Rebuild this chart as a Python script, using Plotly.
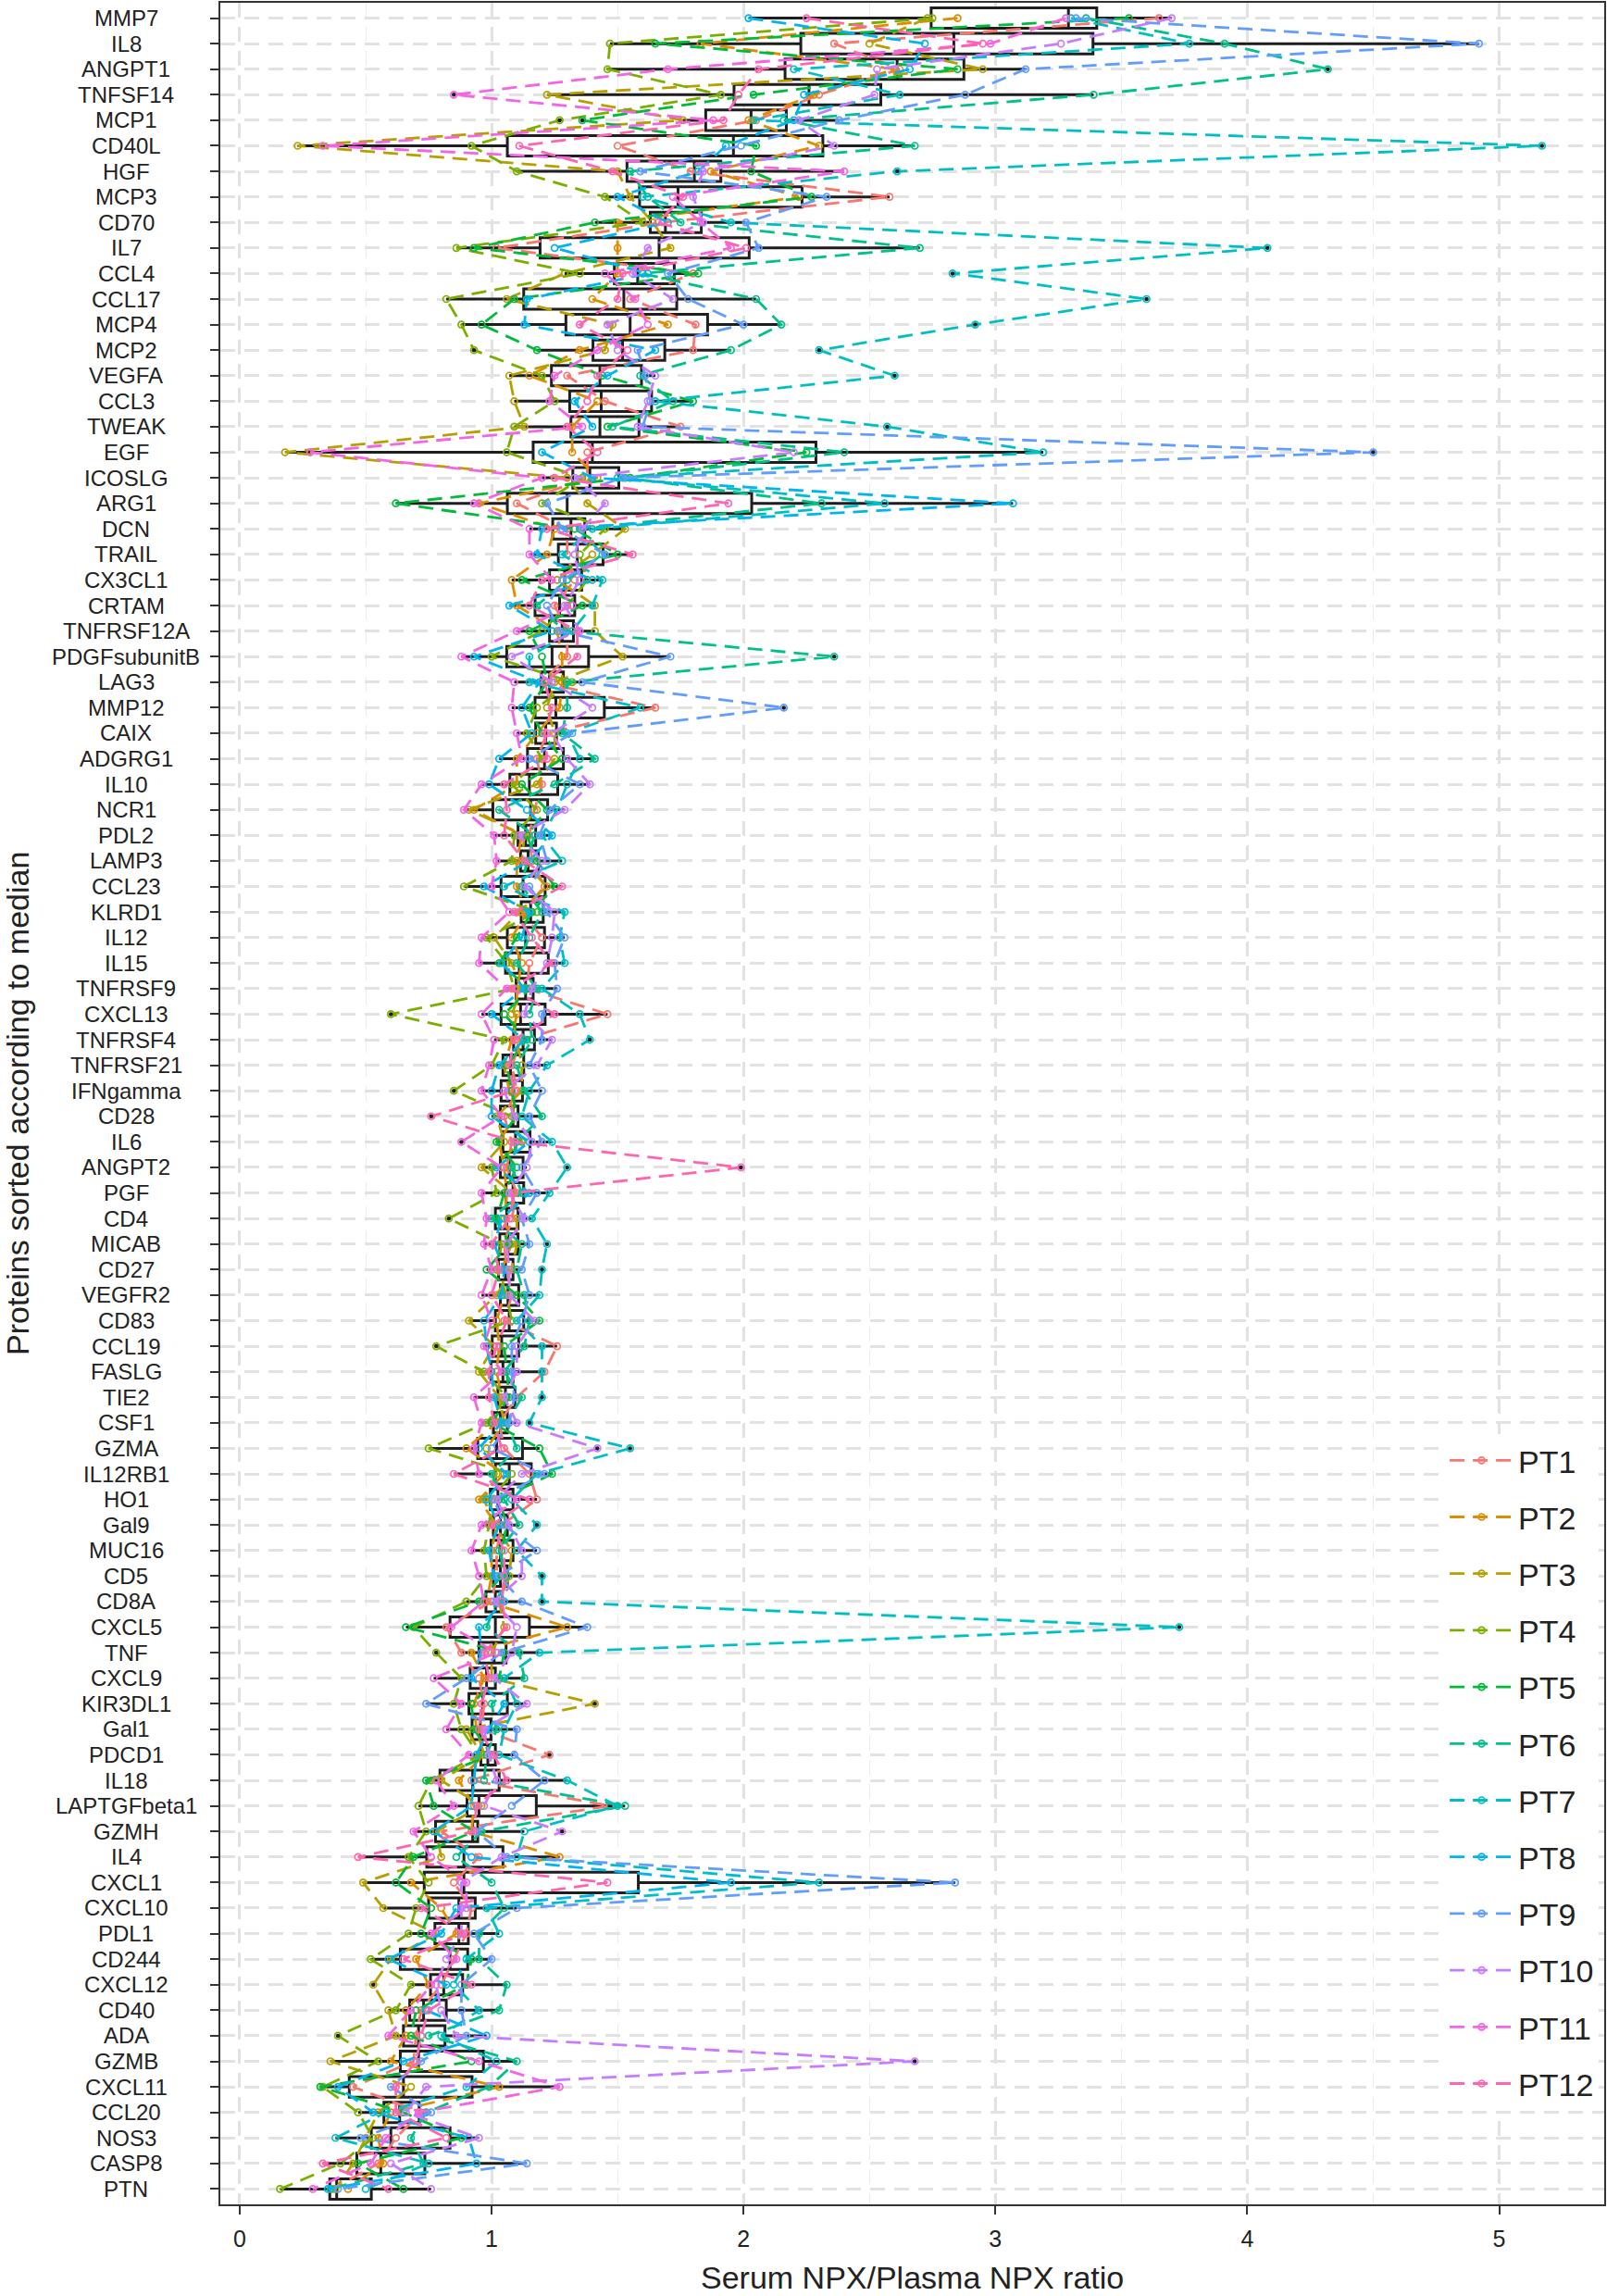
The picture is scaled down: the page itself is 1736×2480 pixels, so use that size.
import numpy as np
import plotly.graph_objects as go

proteins = ["MMP7", "IL8", "ANGPT1", "TNFSF14", "MCP1", "CD40L", "HGF", "MCP3", "CD70", "IL7",
            "CCL4", "CCL17", "MCP4", "MCP2", "VEGFA", "CCL3", "TWEAK", "EGF", "ICOSLG", "ARG1",
            "DCN", "TRAIL", "CX3CL1", "CRTAM", "TNFRSF12A", "PDGFsubunitB", "LAG3", "MMP12", "CAIX", "ADGRG1",
            "IL10", "NCR1", "PDL2", "LAMP3", "CCL23", "KLRD1", "IL12", "IL15", "TNFRSF9", "CXCL13",
            "TNFRSF4", "TNFRSF21", "IFNgamma", "CD28", "IL6", "ANGPT2", "PGF", "CD4", "MICAB", "CD27",
            "VEGFR2", "CD83", "CCL19", "FASLG", "TIE2", "CSF1", "GZMA", "IL12RB1", "HO1", "Gal9",
            "MUC16", "CD5", "CD8A", "CXCL5", "TNF", "CXCL9", "KIR3DL1", "Gal1", "PDCD1", "IL18",
            "LAPTGFbeta1", "GZMH", "IL4", "CXCL1", "CXCL10", "PDL1", "CD244", "CXCL12", "CD40", "ADA",
            "GZMB", "CXCL11", "CCL20", "NOS3", "CASP8", "PTN"]

pt1 = [3.65, 2.36, 2.62, 2.30, 2.05, 1.50, 1.79, 2.58, 1.68, 1.02,
       1.80, 1.55, 1.81, 1.80, 1.30, 1.45, 1.75, 1.38, 1.38, 1.10,
       1.30, 1.30, 1.33, 1.25, 1.30, 1.30, 1.20, 1.65, 1.22, 1.18,
       1.20, 1.17, 1.15, 1.16, 1.21, 1.12, 1.20, 1.15, 1.14, 1.46,
       1.12, 1.08, 1.10, 1.05, 1.08, 1.06, 1.10, 1.08, 1.05, 1.06,
       1.08, 1.05, 1.26, 1.21, 1.10, 1.03, 1.05, 1.15, 1.18, 1.04,
       1.02, 1.02, 1.00, 0.82, 0.88, 0.95, 0.97, 0.96, 1.23, 0.92,
       1.47, 0.80, 0.95, 0.85, 0.92, 0.90, 0.85, 0.80, 0.72, 0.70,
       0.69, 0.45, 0.72, 0.62, 0.55, 0.37]
pt2 = [2.85, 1.83, 2.60, 2.28, 2.02, 2.30, 1.87, 2.22, 1.50, 1.50,
       1.50, 1.40, 1.70, 1.35, 1.15, 1.42, 1.32, 1.32, 1.42, 0.95,
       1.25, 1.22, 1.08, 1.10, 1.26, 1.28, 1.28, 1.27, 1.18, 1.10,
       1.10, 0.93, 1.12, 1.10, 1.10, 1.14, 1.08, 1.12, 1.10, 1.10,
       1.08, 1.05, 1.07, 1.09, 1.03, 1.05, 1.06, 1.05, 1.08, 1.04,
       1.05, 1.02, 1.03, 1.02, 1.04, 1.02, 0.90, 1.05, 0.95, 1.02,
       1.00, 1.00, 0.98, 1.30, 0.92, 0.97, 0.93, 0.94, 0.97, 0.87,
       0.93, 0.92, 1.27, 0.68, 0.80, 0.86, 0.70, 0.75, 0.66, 0.66,
       0.60, 1.03, 0.60, 0.55, 0.57, 0.43]
pt3 = [2.73, 2.50, 2.95, 1.22, 1.76, 0.23, 1.50, 1.55, 1.64, 1.71,
       1.29, 1.06, 1.48, 1.45, 1.07, 1.09, 1.13, 0.18, 1.30, 1.38,
       1.53, 1.40, 1.26, 1.41, 1.41, 1.52, 1.25, 1.22, 1.25, 1.25,
       1.18, 0.91, 1.13, 1.12, 1.22, 1.11, 1.01, 1.08, 1.12, 1.08,
       1.10, 1.12, 1.12, 1.02, 1.05, 0.96, 1.08, 1.10, 1.10, 1.08,
       1.02, 0.91, 1.01, 0.95, 1.03, 1.05, 0.98, 1.02, 0.97, 1.01,
       1.08, 1.07, 1.03, 1.05, 1.00, 1.00, 1.41, 0.90, 0.96, 0.80,
       0.96, 0.78, 0.80, 0.49, 0.57, 0.78, 0.60, 0.53, 0.59, 0.62,
       0.36, 0.68, 0.55, 0.50, 0.45, 0.38]
pt4 = [2.75, 1.47, 1.46, 1.91, 1.27, 0.92, 1.10, 1.45, 1.60, 0.86,
       1.35, 0.82, 0.88, 0.93, 1.20, 1.25, 1.09, 1.06, 1.36, 1.20,
       1.45, 1.35, 1.38, 1.30, 1.20, 1.00, 1.32, 1.18, 1.14, 1.20,
       1.08, 1.18, 1.09, 1.08, 0.89, 1.18, 0.98, 1.06, 1.09, 0.60,
       1.05, 1.00, 0.85, 1.08, 1.12, 1.00, 1.02, 0.83, 1.04, 1.02,
       1.06, 1.08, 0.78, 0.97, 1.06, 0.98, 0.75, 1.08, 1.00, 0.99,
       0.97, 0.98, 0.90, 0.69, 0.78, 0.88, 0.85, 0.88, 0.95, 0.76,
       0.71, 0.74, 0.67, 0.75, 0.70, 0.67, 0.52, 0.68, 0.62, 0.39,
       0.55, 0.33, 0.47, 0.53, 0.40, 0.16]
pt5 = [3.53, 1.65, 2.85, 2.04, 1.36, 2.05, 2.03, 2.27, 1.41, 0.93,
       1.82, 1.09, 0.96, 1.18, 1.44, 1.80, 1.46, 2.25, 1.55, 0.62,
       1.33, 1.50, 1.12, 1.36, 1.15, 1.20, 1.22, 1.15, 1.20, 1.28,
       1.12, 1.22, 1.14, 1.18, 1.25, 1.16, 1.10, 1.03, 1.15, 1.05,
       1.14, 1.06, 1.08, 1.10, 1.02, 1.10, 1.05, 1.02, 1.07, 0.98,
       1.10, 1.19, 1.05, 1.06, 1.07, 1.00, 1.19, 1.24, 1.03, 1.06,
       1.04, 1.04, 0.95, 0.66, 1.05, 1.03, 0.92, 0.93, 1.00, 0.74,
       0.77, 0.93, 0.69, 0.62, 0.76, 0.72, 0.92, 0.90, 0.70, 0.68,
       0.92, 0.32, 0.65, 0.88, 0.47, 0.65]
pt6 = [3.36, 3.91, 4.32, 3.39, 2.16, 2.68, 1.55, 1.62, 1.75, 2.70,
       1.60, 2.05, 2.15, 1.95, 1.59, 1.72, 1.48, 2.40, 1.53, 2.31,
       1.35, 1.44, 1.30, 1.18, 1.29, 2.36, 1.30, 1.30, 1.28, 1.41,
       1.25, 1.03, 1.17, 1.14, 1.12, 1.20, 1.15, 1.10, 1.18, 1.15,
       1.16, 1.10, 1.13, 1.20, 1.10, 1.08, 1.12, 1.00, 1.12, 1.10,
       1.13, 1.15, 1.13, 1.05, 1.12, 1.06, 1.10, 1.00, 1.05, 1.11,
       1.03, 1.06, 1.02, 0.98, 1.11, 1.13, 1.00, 1.02, 0.98, 0.97,
       1.53, 0.96, 0.86, 1.00, 1.05, 0.95, 0.95, 1.06, 1.03, 0.75,
       1.10, 0.99, 0.74, 0.68, 0.73, 0.36]
pt7 = [3.30, 3.77, 2.20, 2.62, 2.04, 5.17, 2.61, 1.60, 1.95, 4.08,
       2.83, 3.60, 2.92, 2.30, 2.60, 1.65, 2.57, 3.19, 1.50, 2.56,
       1.40, 1.28, 1.44, 1.40, 1.32, 1.15, 1.15, 1.59, 1.30, 1.35,
       1.30, 1.26, 1.20, 1.28, 1.05, 1.29, 1.27, 1.29, 1.20, 1.35,
       1.39, 1.22, 1.15, 1.12, 1.24, 1.30, 1.23, 1.16, 1.22, 1.20,
       1.19, 1.10, 1.20, 1.20, 1.20, 1.15, 1.55, 1.18, 1.08, 1.18,
       1.10, 1.20, 1.20, 3.73, 1.19, 1.05, 1.10, 1.05, 1.03, 1.30,
       1.50, 1.13, 1.10, 2.30, 0.98, 1.03, 0.90, 0.85, 0.95, 0.80,
       1.02, 0.90, 0.58, 0.38, 0.75, 0.50]
pt8 = [2.02, 2.72, 2.66, 2.24, 2.20, 1.93, 1.82, 1.50, 1.70, 1.25,
       1.62, 1.14, 1.13, 1.65, 1.46, 1.33, 1.40, 1.20, 1.40, 3.07,
       1.20, 1.18, 1.40, 1.07, 1.24, 0.93, 1.19, 1.12, 1.16, 1.03,
       0.99, 1.14, 1.24, 1.15, 0.97, 1.15, 1.12, 1.04, 1.13, 1.00,
       1.13, 1.03, 1.00, 1.00, 1.15, 1.02, 1.15, 1.04, 1.01, 1.05,
       1.04, 0.97, 0.98, 1.00, 1.01, 1.04, 0.95, 1.06, 0.98, 1.03,
       0.99, 1.01, 1.05, 0.95, 0.96, 0.92, 1.05, 0.99, 0.94, 0.93,
       0.92, 0.77, 0.92, 1.95, 0.86, 0.80, 0.59, 0.82, 0.74, 0.98,
       0.65, 0.39, 0.53, 0.91, 0.94, 0.35]
pt9 = [3.32, 4.92, 3.12, 2.88, 2.38, 1.99, 1.59, 2.33, 2.01, 2.06,
       1.70, 1.78, 2.00, 1.58, 1.61, 1.63, 1.60, 4.50, 1.52, 1.22,
       1.28, 1.45, 1.28, 1.22, 1.27, 1.71, 1.36, 2.16, 1.32, 1.15,
       1.35, 1.23, 1.19, 1.22, 1.15, 1.22, 1.29, 1.25, 1.26, 1.20,
       1.20, 1.15, 1.20, 1.15, 1.20, 1.12, 1.18, 1.12, 1.15, 1.12,
       1.15, 1.12, 1.08, 1.08, 1.09, 1.07, 1.00, 1.21, 1.01, 1.05,
       1.18, 1.03, 1.12, 1.38, 1.04, 0.90, 0.74, 1.10, 1.09, 1.21,
       1.08, 0.94, 1.06, 2.84, 1.10, 0.93, 1.00, 0.88, 0.88, 0.90,
       0.72, 0.60, 0.76, 0.48, 1.14, 0.39]
pt10 = [3.70, 3.26, 2.53, 2.52, 2.22, 2.36, 1.84, 1.80, 1.84, 1.62,
        1.56, 1.72, 1.46, 1.50, 1.65, 1.62, 1.58, 2.20, 1.33, 1.45,
        1.36, 1.33, 1.35, 1.29, 1.35, 1.08, 1.24, 1.40, 1.24, 1.30,
        1.39, 1.29, 1.11, 1.20, 1.13, 1.25, 1.24, 1.22, 1.16, 1.13,
        1.24, 1.18, 1.05, 1.09, 1.16, 1.14, 1.07, 1.13, 1.06, 1.07,
        1.07, 1.17, 1.10, 1.10, 1.05, 1.10, 1.42, 1.12, 1.02, 1.07,
        1.12, 1.12, 1.01, 1.10, 1.08, 1.01, 1.14, 0.97, 0.99, 1.02,
        0.97, 1.28, 1.04, 0.88, 0.88, 0.88, 0.82, 0.78, 0.80, 0.86,
        2.68, 0.74, 0.66, 0.95, 0.60, 0.76]
pt11 = [3.28, 2.98, 1.70, 0.85, 1.88, 0.33, 2.40, 1.72, 1.83, 1.95,
        1.45, 1.57, 1.62, 1.42, 1.25, 1.23, 1.36, 0.28, 1.20, 0.93,
        1.15, 1.15, 1.24, 1.32, 1.10, 0.88, 1.09, 1.08, 1.10, 1.12,
        0.96, 0.89, 1.01, 1.02, 1.00, 1.07, 0.96, 0.95, 1.06, 0.96,
        1.01, 0.99, 0.96, 1.04, 0.88, 1.04, 0.96, 0.98, 0.97, 1.00,
        0.96, 1.00, 0.97, 1.04, 0.93, 0.96, 0.93, 0.95, 1.10, 0.96,
        0.92, 0.95, 0.97, 0.84, 1.02, 0.77, 0.88, 0.82, 0.91, 0.78,
        0.85, 0.69, 0.76, 0.90, 0.90, 0.76, 0.86, 0.76, 0.68, 0.59,
        0.95, 1.27, 0.71, 0.58, 0.52, 0.29]
pt12 = [2.25, 2.95, 2.06, 1.98, 1.92, 1.11, 1.48, 1.76, 1.66, 2.01,
        1.52, 1.50, 1.35, 1.54, 1.42, 1.38, 1.30, 1.42, 1.25, 1.94,
        1.22, 1.56, 1.20, 1.15, 1.34, 1.34, 1.21, 1.24, 1.21, 1.22,
        1.05, 1.06, 1.05, 1.13, 1.28, 1.09, 1.16, 1.24, 1.08, 1.25,
        1.09, 1.07, 1.09, 0.76, 1.09, 1.99, 1.09, 1.07, 1.00, 1.03,
        1.00, 1.06, 1.02, 0.99, 0.99, 1.01, 1.04, 0.85, 1.15, 1.00,
        1.05, 1.05, 1.04, 1.06, 0.97, 0.99, 0.96, 0.95, 1.01, 1.06,
        0.94, 0.93, 0.47, 1.46, 0.72, 0.89, 0.65, 0.92, 0.75, 0.72,
        0.70, 0.62, 0.62, 0.82, 0.33, 0.59]

patients = ["PT1", "PT2", "PT3", "PT4", "PT5", "PT6", "PT7", "PT8", "PT9", "PT10", "PT11", "PT12"]
colors = ["#F8766D", "#DE8C00", "#B79F00", "#7CAE00", "#00BA38", "#00C08B",
          "#00BFC4", "#00B4F0", "#619CFF", "#C77CFF", "#F564E3", "#FF64B0"]
series = [pt1, pt2, pt3, pt4, pt5, pt6, pt7, pt8, pt9, pt10, pt11, pt12]
x_ticks = [0, 1, 2, 3, 4, 5]

FONT = "Liberation Sans, Arial, Helvetica, sans-serif"
TXT = "#222222"
BOXC = "#1e1e1e"

# Box statistics (R / ggplot type-7 quantiles, Tukey whiskers)
q1s, meds, q3s, lows, highs = [], [], [], [], []
out_x, out_y = [], []
for i, p in enumerate(proteins):
    vals = np.array([s[i] for s in series])
    q1, md, q3 = np.percentile(vals, [25, 50, 75])
    iqr = q3 - q1
    lo_f, hi_f = q1 - 1.5 * iqr, q3 + 1.5 * iqr
    inside = vals[(vals >= lo_f) & (vals <= hi_f)]
    q1s.append(q1); meds.append(md); q3s.append(q3)
    lows.append(inside.min()); highs.append(inside.max())
    for v in vals[(vals < lo_f) | (vals > hi_f)]:
        out_x.append(v); out_y.append(p)

fig = go.Figure()

fig.add_trace(go.Box(
    y=proteins, q1=q1s, median=meds, q3=q3s, lowerfence=lows, upperfence=highs,
    orientation="h", width=0.8,
    fillcolor="white", line=dict(color=BOXC, width=3),
    whiskerwidth=0, boxpoints=False,
    showlegend=False, hoverinfo="skip",
))

for name, s, c in zip(patients, series, colors):
    fig.add_trace(go.Scatter(
        x=s, y=proteins, mode="lines+markers", name=name, legendgroup=name,
        line=dict(color=c, width=2.8, dash="16px,9px"),
        marker=dict(symbol="circle-open", size=7, color=c, line=dict(width=1.7, color=c)),
    ))

fig.add_trace(go.Scatter(
    x=out_x, y=out_y, mode="markers", showlegend=False, hoverinfo="skip",
    marker=dict(color=BOXC, size=4.5),
))

annotations = []
for p in proteins:
    annotations.append(dict(x=-0.0682, xref="paper", y=p, yref="y", text=p,
                            showarrow=False, xanchor="center", yanchor="middle",
                            font=dict(family=FONT, size=24, color=TXT)))
annotations.append(dict(x=-0.1465, xref="paper", y=0.5, yref="paper",
                        text="Proteins sorted according to median", textangle=-90,
                        showarrow=False, xanchor="center", yanchor="middle",
                        font=dict(family=FONT, size=34, color=TXT)))
annotations.append(dict(x=0.5, xref="paper", y=-0.0332, yref="paper",
                        text="Serum NPX/Plasma NPX ratio",
                        showarrow=False, xanchor="center", yanchor="middle",
                        font=dict(family=FONT, size=34, color=TXT)))

fig.update_layout(
    width=1736, height=2480,
    margin=dict(l=238, r=2, t=1, b=99),
    paper_bgcolor="white", plot_bgcolor="white",
    font=dict(family=FONT, color=TXT),
    xaxis=dict(
        range=[-0.077, 5.417], tickvals=x_ticks, ticks="outside", ticklen=9, tickwidth=2,
        tickcolor="#333333", tickfont=dict(family=FONT, size=25, color=TXT),
        ticklabelstandoff=5,
        showline=True, mirror=True, linecolor="#333333", linewidth=1.5,
        showgrid=True, gridcolor="#E2E2E2", gridwidth=2.5, griddash="16px,10px",
        zeroline=False,
        minor=dict(tick0=0.5, dtick=1, showgrid=True, gridcolor="#EBEBEB", gridwidth=1.2),
    ),
    yaxis=dict(
        type="category", categoryorder="array", categoryarray=proteins,
        range=[85.6, -0.6], ticks="outside", ticklen=9, tickwidth=2, tickcolor="#333333",
        showticklabels=False,
        showline=True, mirror=True, linecolor="#333333", linewidth=1.5,
        showgrid=True, gridcolor="#E2E2E2", gridwidth=2.5, griddash="16px,10px",
        zeroline=False,
    ),
    legend=dict(
        x=0.885, xanchor="left", y=0.35, yanchor="top",
        bgcolor="white", borderwidth=0,
        font=dict(family=FONT, size=34, color=TXT),
        tracegroupgap=14, itemwidth=69,
    ),
    annotations=annotations,
    showlegend=True,
)

fig.write_html("out.html", config={"displayModeBar": False},
               post_script="document.body.style.margin='0px';")
